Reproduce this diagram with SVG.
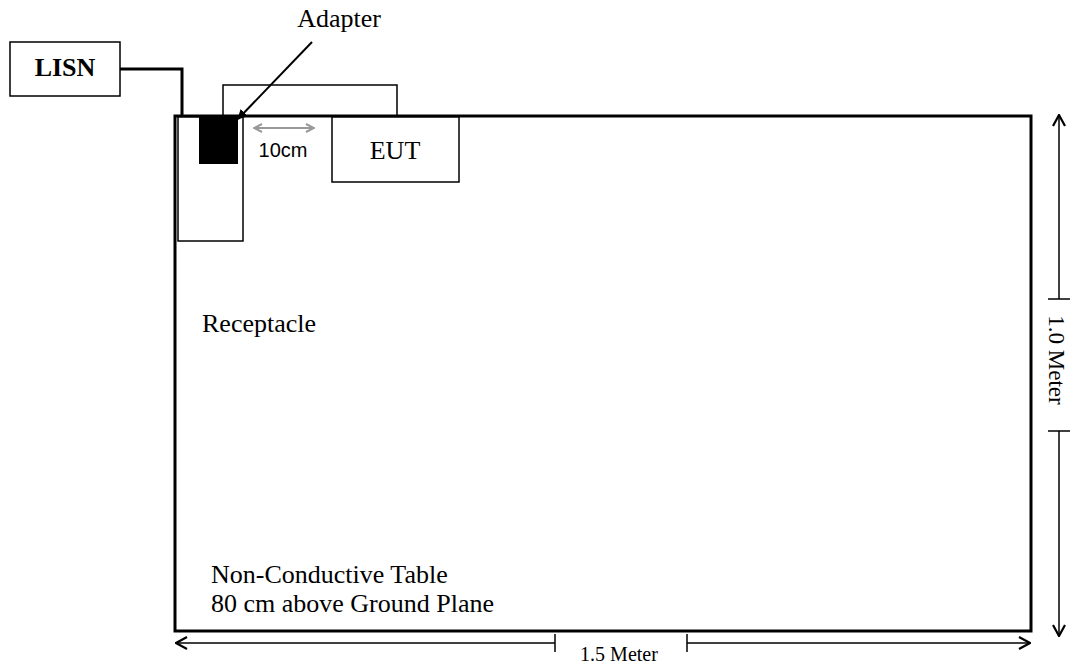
<svg xmlns="http://www.w3.org/2000/svg" width="1070" height="665" viewBox="0 0 1070 665">
<style>
.t{font-family:"Liberation Serif","Times New Roman",serif;fill:#000}
.box{fill:#fff;stroke:#000;stroke-width:1.5}
.dim{stroke:#000;stroke-width:1.5;fill:none}
</style>
<defs>
<marker id="ah" viewBox="0 0 14 14" refX="13" refY="7" markerWidth="14" markerHeight="14" markerUnits="userSpaceOnUse" orient="auto">
<path d="M2,1 L13,7 L2,13" fill="none" stroke="#000" stroke-width="2.2"/>
</marker>
<marker id="ahs" viewBox="0 0 10 10" refX="9" refY="5" markerWidth="10" markerHeight="10" markerUnits="userSpaceOnUse" orient="auto">
<path d="M0,0 L10,5 L0,10 Z" fill="#000"/>
</marker>
<marker id="ag" viewBox="0 0 10 10" refX="9" refY="5" markerWidth="10" markerHeight="10" markerUnits="userSpaceOnUse" orient="auto-start-reverse">
<path d="M1,1 L9,5 L1,9" fill="none" stroke="#999" stroke-width="2"/>
</marker>
</defs>
<g id="table">
<rect x="175" y="116" width="856" height="515" fill="#fff" stroke="#000" stroke-width="3"/>
<text class="t" x="211" y="583" font-size="26">Non-Conductive Table</text>
<text class="t" x="211" y="612" font-size="26">80 cm above Ground Plane</text>
</g>
<g id="cable-loop">
<path d="M223,116 V85 H397 V116" fill="none" stroke="#000" stroke-width="1.5"/>
</g>
<g id="lisn">
<rect class="box" x="10" y="42" width="110" height="54"/>
<text class="t" x="65" y="76" font-size="26" font-weight="bold" text-anchor="middle">LISN</text>
</g>
<g id="receptacle">
<rect class="box" x="178" y="117" width="65" height="124"/>
<text class="t" x="202" y="332" font-size="26">Receptacle</text>
</g>
<g id="adapter">
<rect x="199" y="117" width="39" height="47" fill="#000"/>
<text class="t" x="339" y="27" font-size="26" text-anchor="middle">Adapter</text>
</g>
<g id="eut">
<rect class="box" x="332" y="117" width="127" height="65"/>
<text class="t" x="395" y="159" font-size="26" text-anchor="middle">EUT</text>
</g>
<g id="connectors">
<path d="M120,69 H182 V116" fill="none" stroke="#000" stroke-width="3"/>
<line x1="312" y1="42" x2="238" y2="119" stroke="#000" stroke-width="2" marker-end="url(#ahs)"/>
<line x1="254" y1="128" x2="314" y2="128" stroke="#999" stroke-width="2" marker-start="url(#ag)" marker-end="url(#ag)"/>
<text x="283" y="157" font-family="Liberation Sans, Arial, sans-serif" font-size="20" text-anchor="middle">10cm</text>
<line class="dim" x1="555" y1="643" x2="176" y2="643" marker-end="url(#ah)"/>
<line class="dim" x1="687" y1="643" x2="1030" y2="643" marker-end="url(#ah)"/>
<line class="dim" x1="555" y1="634" x2="555" y2="652"/>
<line class="dim" x1="687" y1="634" x2="687" y2="652"/>
<text class="t" x="619" y="661" font-size="20" text-anchor="middle">1.5 Meter</text>
<line class="dim" x1="1059" y1="299" x2="1059" y2="115" marker-end="url(#ah)"/>
<line class="dim" x1="1059" y1="431" x2="1059" y2="636" marker-end="url(#ah)"/>
<line class="dim" x1="1048" y1="299" x2="1070" y2="299"/>
<line class="dim" x1="1048" y1="431" x2="1070" y2="431"/>
<text class="t" x="0" y="0" font-size="23" text-anchor="middle" transform="translate(1049,360) rotate(90)">1.0 Meter</text>
</g>
</svg>
